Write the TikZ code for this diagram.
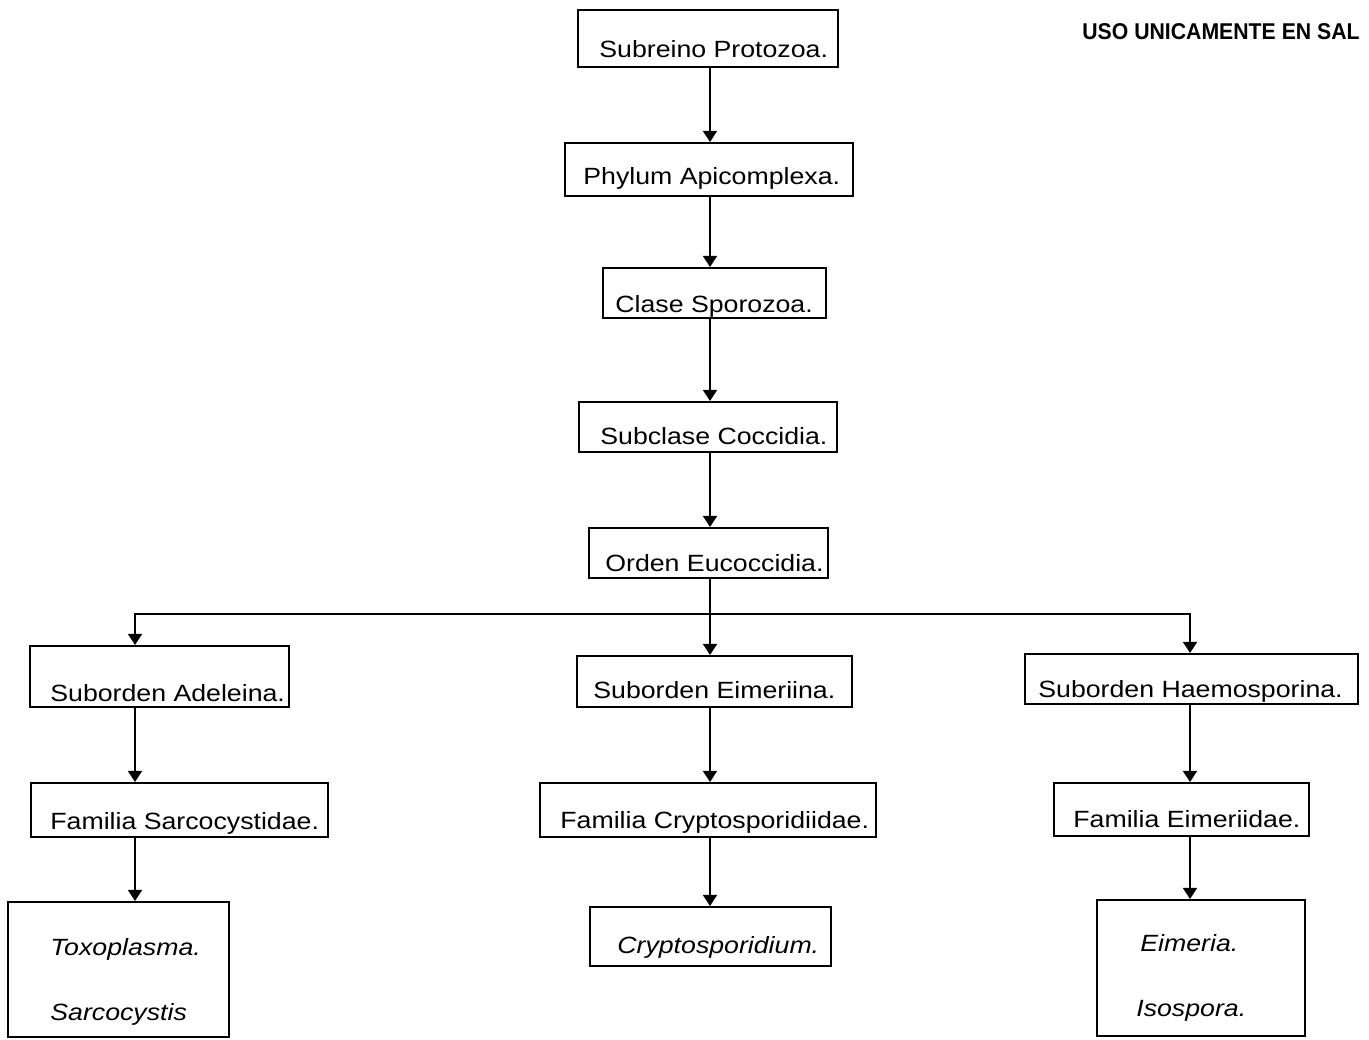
\documentclass[tikz,border=0pt]{standalone}
\usepackage{fontspec}
\setmainfont{Liberation Sans}
\usetikzlibrary{arrows.meta,fit}
\newcommand{\sq}[1]{\scalebox{1}[0.88]{#1}}
\tikzset{
  box/.style={draw, line width=1.2pt, inner sep=0pt, fill=none},
  lbl/.style={anchor=base west, inner sep=0pt, font=\fontsize{15.2}{18}\selectfont},
  ilbl/.style={lbl, font=\fontsize{15.2}{18}\selectfont\itshape},
  arr/.style={line width=1pt, -{Triangle[length=2.2mm,width=2.8mm]}},
  wm/.style={anchor=base west, inner sep=0pt, font=\fontsize{13}{15}\selectfont\bfseries}
}
\begin{document}
\begin{tikzpicture}[x=0.02cm,y=-0.02cm]
\useasboundingbox (0,0) rectangle (1369,1039);
% boxes
\node[box, fit={(578,10) (838,67)}] (b1) {};
\node[box, fit={(565,143) (853,196)}] (b2) {};
\node[box, fit={(603,268) (826,318)}] (b3) {};
\node[box, fit={(579,402) (837,452)}] (b4) {};
\node[box, fit={(589,528) (828,578)}] (b5) {};
\node[box, fit={(30,646) (289,707)}] (b6) {};
\node[box, fit={(577,656) (852,707)}] (b7) {};
\node[box, fit={(1025,654) (1358,704)}] (b8) {};
\node[box, fit={(31,783) (328,837)}] (b9) {};
\node[box, fit={(540,783) (876,837)}] (b10) {};
\node[box, fit={(1054,783) (1309,836)}] (b11) {};
\node[box, fit={(8,902) (229,1037)}] (b12) {};
\node[box, fit={(590,907) (831,966)}] (b13) {};
\node[box, fit={(1097,900) (1305,1036)}] (b14) {};
% labels
\node[lbl] (t1) at (599,57) {\sq{Subreino Protozoa.}};
\node[lbl] (t2) at (583,184) {\sq{Phylum Apicomplexa.}};
\node[lbl] (t3) at (615,312) {\sq{Clase Sporozoa.}};
\node[lbl] (t4) at (600,444) {\sq{Subclase Coccidia.}};
\node[lbl] (t5) at (605,571) {\sq{Orden Eucoccidia.}};
\node[lbl] (t6) at (50,701) {\sq{Suborden Adeleina.}};
\node[lbl] (t7) at (593,698) {\sq{Suborden Eimeriina.}};
\node[lbl] (t8) at (1038,697) {\sq{Suborden Haemosporina.}};
\node[lbl] (t9) at (50,829) {\sq{Familia Sarcocystidae.}};
\node[lbl] (t10) at (560,828) {\sq{Familia Cryptosporidiidae.}};
\node[lbl] (t11) at (1073,827) {\sq{Familia Eimeriidae.}};
\node[ilbl] (t12a) at (50,955) {\sq{Toxoplasma.}};
\node[ilbl] (t12b) at (50,1020) {\sq{Sarcocystis}};
\node[ilbl] (t13) at (617,953) {\sq{Cryptosporidium.}};
\node[ilbl] (t14a) at (1140,951) {\sq{Eimeria.}};
\node[ilbl] (t14b) at (1136,1016) {\sq{Isospora.}};
\node[wm] (wm) at (1082,39) {\scalebox{0.93}[1]{USO UNICAMENTE EN SAL}};
% connector guides
\coordinate (cx) at (710,0);
\coordinate (lx) at (135,0);
\coordinate (rx) at (1190,0);
\coordinate (hy) at (0,614);
% connectors
\draw[arr] (b1.south -| cx) -- (b2.north -| cx);
\draw[arr] (b2.south -| cx) -- (b3.north -| cx);
\draw[arr] (b3.south -| cx) -- (b4.north -| cx);
\draw[arr] (b4.south -| cx) -- (b5.north -| cx);
\draw[arr] (b5.south -| cx) -- (b7.north -| cx);
\draw[arr] (b5.south -| cx) |- (hy -| lx) -- (b6.north -| lx);
\draw[arr] (b5.south -| cx) |- (hy -| rx) -- (b8.north -| rx);
\draw[arr] (b6.south -| lx) -- (b9.north -| lx);
\draw[arr] (b9.south -| lx) -- (b12.north -| lx);
\draw[arr] (b7.south -| cx) -- (b10.north -| cx);
\draw[arr] (b10.south -| cx) -- (b13.north -| cx);
\draw[arr] (b8.south -| rx) -- (b11.north -| rx);
\draw[arr] (b11.south -| rx) -- (b14.north -| rx);
\end{tikzpicture}
\end{document}
